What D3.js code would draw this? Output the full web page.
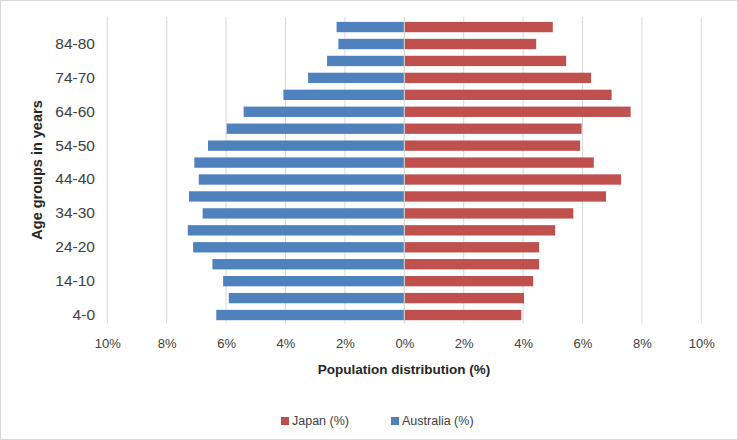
<!DOCTYPE html>
<html><head><meta charset="utf-8">
<script src="https://cdn.jsdelivr.net/npm/d3@7"></script>
<style>body{margin:0;background:#fff}svg{display:block}text{font-family:"Liberation Sans",Arial,sans-serif}</style>
</head><body><svg id="c" width="738" height="440"></svg>
<script>
const ageGroups = ["4-0","9-5","14-10","19-15","24-20","29-25","34-30","39-35","44-40","49-45","54-50","59-55","64-60","69-65","74-70","79-75","84-80","85+"];
const japan = [3.94,4.03,4.34,4.54,4.54,5.08,5.69,6.79,7.30,6.38,5.92,5.97,7.62,6.98,6.29,5.45,4.44,5.00];
const australia = [6.33,5.91,6.10,6.46,7.11,7.29,6.79,7.25,6.92,7.07,6.61,5.98,5.41,4.07,3.24,2.60,2.22,2.28];
const shownLabels = ["4-0","14-10","24-20","34-30","44-40","54-50","64-60","74-70","84-80"];
const xTicks = [-10,-8,-6,-4,-2,0,2,4,6,8,10];

const svg = d3.select("#c");
svg.append("rect").attr("x",0.5).attr("y",0.5).attr("width",737).attr("height",439)
  .attr("fill","#fff").attr("stroke","#d9d9d9");

const x = d3.scaleLinear().domain([-10,10]).range([107.3,701.3]);
const y = d3.scaleBand().domain(ageGroups.slice().reverse()).range([18.6,323.5]).paddingInner(0.39).paddingOuter(0.195);

// gridlines
svg.append("g").selectAll("line").data(xTicks).join("line")
  .attr("x1",d=>x(d)).attr("x2",d=>x(d)).attr("y1",17).attr("y2",323.5)
  .attr("stroke","#d9d9d9").attr("stroke-width",1);

const data = ageGroups.map((g,i)=>({g, jp:japan[i], au:australia[i]}));
svg.append("g").selectAll("rect").data(data).join("rect")
  .attr("x",d=>x(-d.au)).attr("width",d=>x(0)-x(-d.au))
  .attr("y",d=>y(d.g)).attr("height",y.bandwidth()).attr("fill","#4f81bd");
svg.append("g").selectAll("rect").data(data).join("rect")
  .attr("x",x(0)).attr("width",d=>x(d.jp)-x(0))
  .attr("y",d=>y(d.g)).attr("height",y.bandwidth()).attr("fill","#c0504d");

svg.append("line").attr("x1",x(0)).attr("x2",x(0)).attr("y1",17).attr("y2",323.5)
  .attr("stroke","#d9d9d9").attr("stroke-width",1);

// x axis
const xAxis = d3.axisBottom(x).tickValues(xTicks).tickSize(0).tickPadding(0)
  .tickFormat(d=>Math.abs(d)+"%");
const gx = svg.append("g").attr("transform","translate(0,338)").call(xAxis);
gx.select(".domain").remove();
gx.selectAll("text").attr("font-size",13).attr("fill","#404040").attr("dy","0.35em").attr("y",5);

// y axis
const yAxis = d3.axisLeft(y).tickValues(shownLabels).tickSize(0).tickPadding(0);
const gy = svg.append("g").attr("transform","translate(95,0)").call(yAxis);
gy.select(".domain").remove();
gy.selectAll("text").attr("font-size",15.5).attr("fill","#404040");

// titles
svg.append("text").attr("x",404).attr("y",374).attr("text-anchor","middle")
  .attr("font-size",13.5).attr("font-weight","bold").attr("fill","#262626")
  .text("Population distribution (%)");
svg.append("text").attr("transform","translate(42,170) rotate(-90)").attr("text-anchor","middle")
  .attr("font-size",14.5).attr("font-weight","bold").attr("fill","#262626")
  .text("Age groups in years");

// legend
const legend = [{name:"Japan (%)",color:"#c0504d",x:281},{name:"Australia (%)",color:"#4f81bd",x:391}];
const lg = svg.append("g").selectAll("g").data(legend).join("g")
  .attr("transform",d=>`translate(${d.x},416)`);
lg.append("rect").attr("width",8).attr("height",8).attr("y",1).attr("fill",d=>d.color);
lg.append("text").attr("x",11).attr("y",5).attr("dy","0.35em").attr("font-size",12.5)
  .attr("fill","#404040").text(d=>d.name);
</script></body></html>
